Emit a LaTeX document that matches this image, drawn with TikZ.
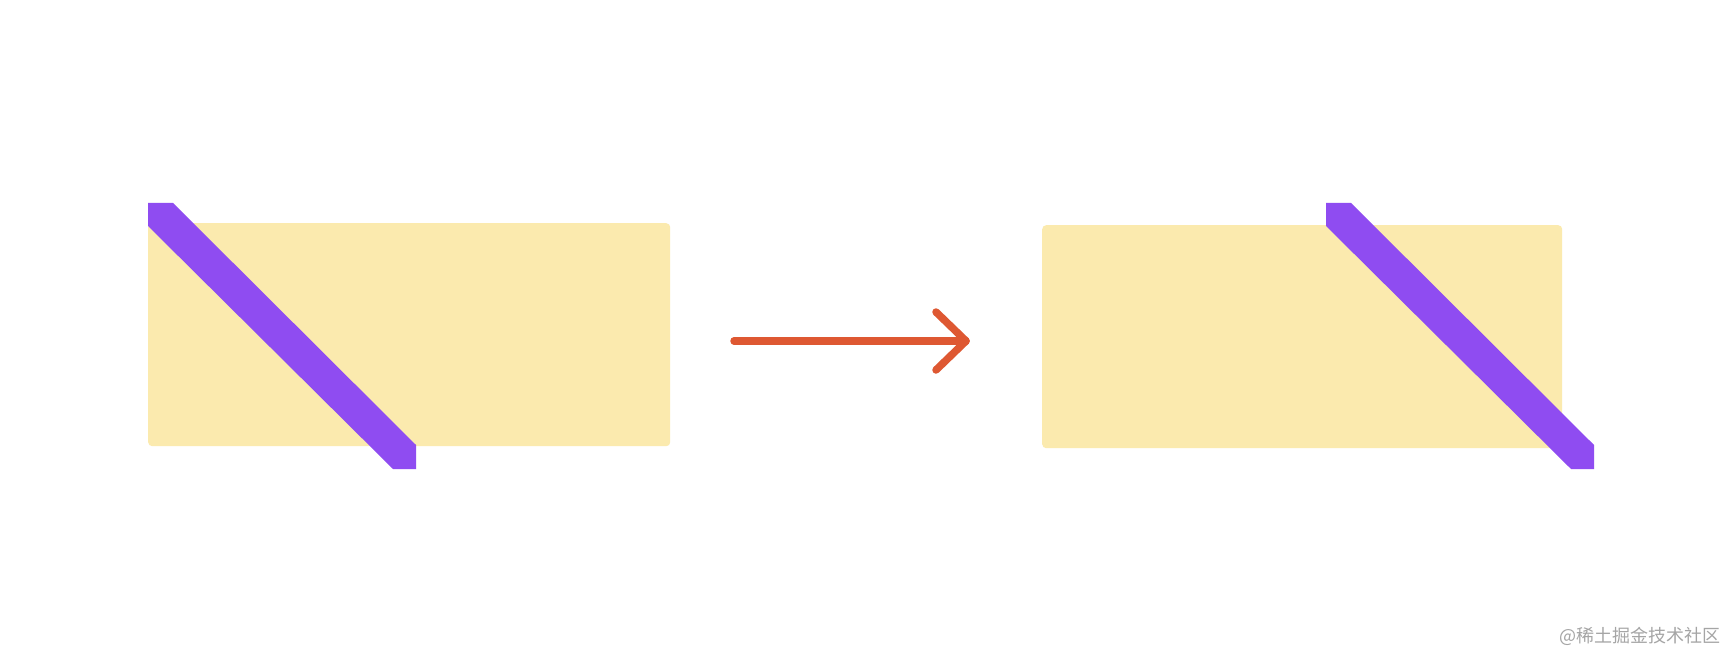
\documentclass[tikz,border=0pt]{standalone}
\usepackage{fontspec}
\newfontfamily\cjk{Noto Sans CJK SC}
\definecolor{boxyellow}{RGB}{251,234,174}
\definecolor{barpurple}{RGB}{143,76,241}
\definecolor{arroworange}{RGB}{222,88,50}
\definecolor{markgray}{RGB}{165,165,165}
\begin{document}
\begin{tikzpicture}[x=1pt,y=-1pt,
  card/.style={fill=boxyellow, draw=none, rounded corners=4pt, inner sep=0pt, anchor=north west},
  bar/.style={fill=barpurple, draw=none},
  flow/.style={draw=arroworange, line width=7.5pt, line cap=round, line join=round}]
\useasboundingbox (0,0) rectangle (1728,652);
\fill[white] (0,0) rectangle (1728,652);
% boxes
\node[card, minimum width=522pt, minimum height=223pt] (left) at (148,223) {};
\node[card, minimum width=520pt, minimum height=223pt] (right) at (1042,225) {};
% purple bars
\fill[bar] (148,203) -- (173,203) -- (416,445) -- (416,469) -- (393,469) -- (148,226) -- cycle;
\begin{scope}[xshift=1178pt]
\fill[bar] (148,203) -- (173,203) -- (416,445) -- (416,469) -- (393,469) -- (148,226) -- cycle;
\end{scope}
% arrow
\coordinate (a0) at (734,341);
\coordinate (a1) at (966,341);
\coordinate (h1) at (936,312);
\coordinate (h2) at (936,370);
\draw[flow] (a0) -- (a1);
\draw[flow] (h1) -- (a1) -- (h2);
% watermark
\node[anchor=east, inner sep=0pt, text=markgray, font=\cjk\fontsize{18}{20}\selectfont] (wm) at (1721,636) {@稀土掘金技术社区};
\end{tikzpicture}
\end{document}
